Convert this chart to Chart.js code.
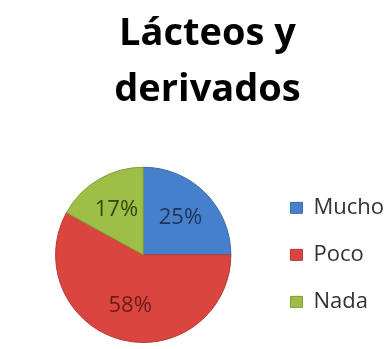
<!DOCTYPE html>
<html>
<head>
<meta charset="utf-8">
<script src="https://cdn.jsdelivr.net/npm/chart.js@4"></script>
<style>
  html, body { margin: 0; padding: 0; background: #fff; }
  canvas { display: block; }
</style>
</head>
<body>
  <canvas id="lacteosChart" width="390" height="349"></canvas>

  <script>
    // Consumo de lácteos y derivados (%)
    const categories = ["Mucho", "Poco", "Nada"];
    const percents = [25, 58, 17];
    const titleLines = ["Lácteos y", "derivados"];

    const sliceColors = ["#4680cc", "#da4540", "#9dbf47"];
    const sliceBorders = ["#3a6aa8", "#b53a35", "#7f9c38"];
    const labelColors = ["#1d3358", "#6a1c1a", "#36450f"];

    // draws the percentage inside each slice
    const sliceLabels = {
      id: "sliceLabels",
      afterDatasetsDraw(chart) {
        const ctx = chart.ctx;
        const meta = chart.getDatasetMeta(0);
        ctx.save();
        ctx.font = "22px 'Open Sans', 'Noto Sans', sans-serif";
        ctx.textAlign = "center";
        ctx.textBaseline = "middle";
        meta.data.forEach((arc, i) => {
          const mid = (arc.startAngle + arc.endAngle) / 2;
          const r = arc.outerRadius * 0.6;
          const x = arc.x + Math.cos(mid) * r;
          const y = arc.y + Math.sin(mid) * r;
          ctx.fillStyle = labelColors[i];
          ctx.fillText(percents[i] + "%", x, y);
        });
        ctx.restore();
      }
    };

    new Chart(document.getElementById("lacteosChart"), {
      type: "pie",
      data: {
        labels: categories,
        datasets: [{
          data: percents,
          backgroundColor: sliceColors,
          borderColor: sliceBorders,
          borderWidth: 1,
        }],
      },
      options: {
        responsive: false,
        animation: false,
        layout: { padding: { left: 21, right: -4, top: 0, bottom: 6 } },
        plugins: {
          title: {
            display: true,
            text: titleLines,
            color: "#000",
            font: { family: "'Open Sans', 'Noto Sans', sans-serif", size: 38, weight: "bold", lineHeight: 1.47 },
            padding: { top: 6, bottom: 49 },
          },
          legend: {
            position: "right",
            fullSize: false,
            labels: {
              color: "#333",
              boxWidth: 12,
              boxHeight: 11,
              padding: 25,
              font: { family: "'Open Sans', 'Noto Sans', sans-serif", size: 22 },
            },
          },
          tooltip: { enabled: false },
        },
      },
      plugins: [sliceLabels],
    });
  </script>
</body>
</html>
